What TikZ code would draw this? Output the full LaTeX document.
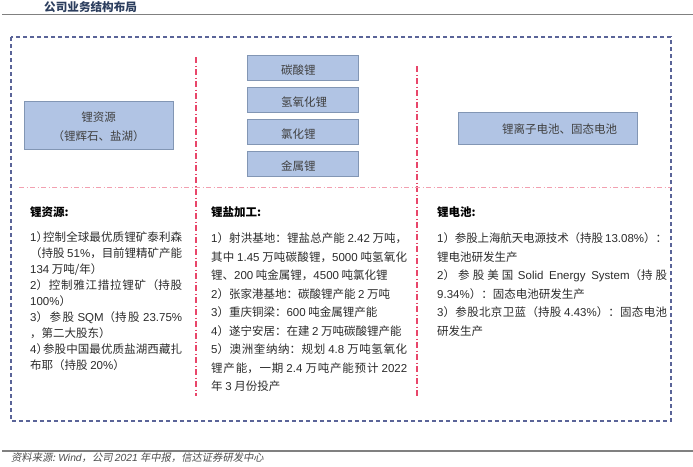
\documentclass[tikz,border=0pt]{standalone}
\usepackage{fontspec}
\setmainfont{Noto Sans CJK SC}
\newfontfamily\lafont{Liberation Sans}
\newfontfamily\laifont{Liberation Sans Italic}
\newfontfamily\cjkslant[FakeSlant=0.2]{Noto Sans CJK SC}
\newcommand{\la}[1]{{\lafont #1}}
\XeTeXlinebreaklocale "zh"
\XeTeXlinebreakskip=0pt plus 2pt minus 0.3pt
\definecolor{boxfill}{HTML}{B1C4E4}
\definecolor{boxedge}{HTML}{8296B4}
\definecolor{framenavy}{HTML}{5A6498}
\definecolor{splitred}{HTML}{E8466A}
\definecolor{hsplitred}{HTML}{F2A0B0}
\definecolor{titlenavy}{HTML}{2C3E5E}
\definecolor{bodygray}{HTML}{2B2B2B}
\tikzset{
	secbox/.style={draw=boxedge, fill=boxfill, line width=1pt, font=\fontsize{11.5}{19}\selectfont, text=black!75, align=center},
	saltbox/.style={secbox, minimum width=111pt, minimum height=25pt, inner xsep=17pt, inner ysep=0pt, text width=77pt, text height=16pt, text depth=2.6pt, align=left},
	heading/.style={anchor=west, inner sep=0pt, font=\fontsize{11.5}{13}\selectfont\bfseries, text=black},
	bodytext/.style={anchor=north west, inner sep=0pt, align=justify, text=bodygray},
	rule/.style={draw=black!50, line width=1.2pt},
	vsplit/.style={splitred, line width=1.6pt, dash pattern=on 6pt off 2.5pt on 1pt off 2.5pt},
}
\begin{document}
\begin{tikzpicture}[x=1pt, y=-1pt]
	\useasboundingbox (0,0) rectangle (693,466);
	\node[anchor=west, inner sep=0pt, font=\fontsize{11.6}{13}\selectfont\bfseries, text=titlenavy] (title) at (44,7) {公司业务结构布局};
	\draw[rule] (2,14.5) -- (693,14.5);
	\draw[rule] (2,451) -- (693,451);
	\node[anchor=west, inner sep=0pt, font=\fontsize{10.3}{12}\cjkslant, text=black!70] (source) at (11,458) {资料来源: {\laifont Wind}，公司 {\laifont 2021} 年中报，信达证券研发中心};

	\draw[framenavy, line width=1.1pt, dash pattern=on 4pt off 3pt] (11,37) rectangle (671,421);
	\draw[vsplit] (196,57) -- (196,396);
	\draw[vsplit] (417,66) -- (417,396);
	\draw[hsplitred, line width=1.2pt, dash pattern=on 5pt off 2.5pt on 1pt off 2.5pt] (19,187.5) -- (671,187.5);

	\node[secbox, minimum width=149pt, minimum height=48pt, inner sep=0pt] (source box) at (98.5,125) {\rule{0pt}{14pt}锂资源\\（锂辉石、盐湖）};
	\foreach \y/\name/\ytext in { 67.5/carbonate/碳酸锂, 99.5/hydroxide/氢氧化锂, 131.5/chloride/氯化锂, 163.5/metal/金属锂 }
		\node[saltbox] (\name) at (302.5,\y) {\hspace*{17pt}\ytext};
	\node[secbox, minimum width=179pt, minimum height=32pt, inner sep=0pt, text height=13.5pt, text depth=2.5pt] (battery box) at (547.5,128) {\hspace*{24pt}锂离子电池、固态电池};

	\node[heading] (source head) at (30,212) {锂资源:};
	\node[heading] (salt head) at (211,212) {锂盐加工:};
	\node[heading] (battery head) at (437,212) {锂电池:};

	\node[bodytext, text width=152pt, font=\fontsize{11.5}{16}\selectfont] (source body) at (30,231) {
		\la{1}）\kern-5pt控制全球最优质锂矿泰利森\linebreak
		（持股 \la{51\%}，目前锂精矿产能\linebreak
		\la{134} 万吨/年）\\
		\la{2}）控制雅江措拉锂矿（持股\linebreak
		\la{100\%}）\\
		\la{3}）参股 \la{SQM}（持股 \la{23.75\%}\linebreak
		，第二大股东）\\
		\la{4}）\kern-5pt参股中国最优质盐湖西藏扎\linebreak
		布耶（持股 \la{20\%}）};
	\node[bodytext, text width=196pt, font=\fontsize{11.5}{18.5}\selectfont] (salt body) at (211,232.5) {
		\la{1}）射洪基地：锂盐总产能 \la{2.42} 万吨，\linebreak
		其中 \la{1.45} 万吨碳酸锂，\la{5000} 吨氢氧化\linebreak
		锂、\la{200} 吨金属锂，\la{4500} 吨氯化锂\\
		\la{2}）张家港基地：碳酸锂产能 \la{2} 万吨\\
		\la{3}）重庆铜梁：\la{600} 吨金属锂产能\\
		\la{4}）遂宁安居：在建 \la{2} 万吨碳酸锂产能\\
		\la{5}）澳洲奎纳纳：规划 \la{4.8} 万吨氢氧化\linebreak
		锂产能，一期 \la{2.4} 万吨产能预计 \la{2022}\linebreak
		年 \la{3} 月份投产};
	\node[bodytext, text width=230pt, font=\fontsize{11.5}{18.5}\selectfont] (battery body) at (437,232.5) {
		\la{1}）参股上海航天电源技术（持股 \la{13.08\%}）：\linebreak
		锂电池研发生产\\
		\la{2}）参股美国 \la{Solid Energy System}（持股\linebreak
		\la{9.34\%}）：固态电池研发生产\\
		\la{3}）参股北京卫蓝（持股 \la{4.43\%}）：固态电池\linebreak
		研发生产};
\end{tikzpicture}
\end{document}
